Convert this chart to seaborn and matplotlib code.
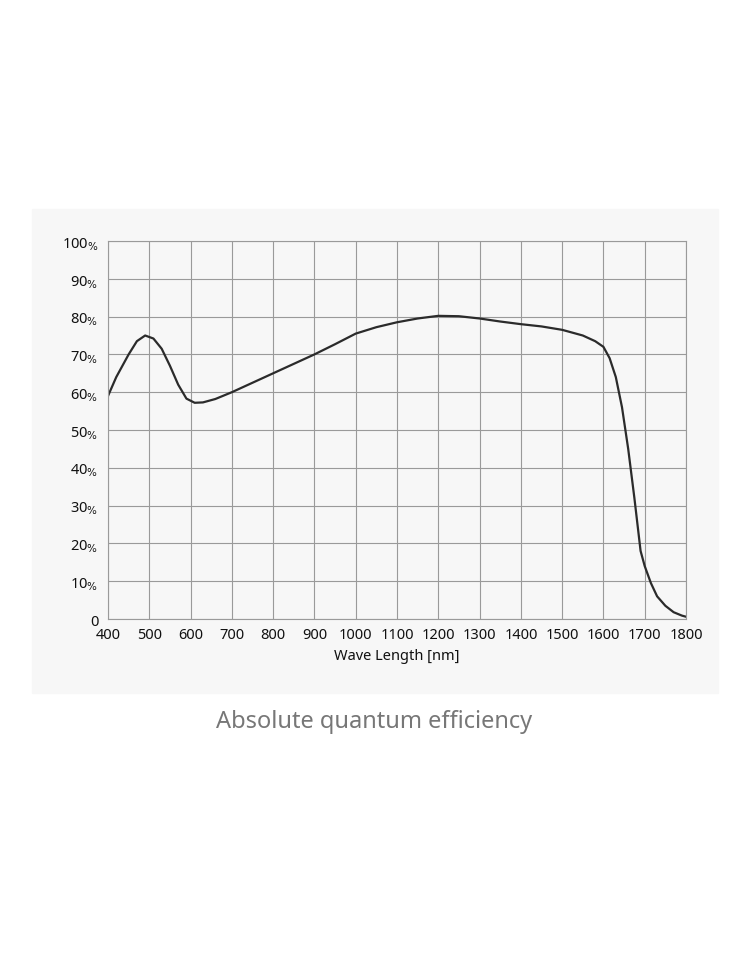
import numpy as np
import pandas as pd
import seaborn as sns
import matplotlib.pyplot as plt
from matplotlib.patches import Rectangle

# Curve
wavelength = [400, 420, 450, 470, 490, 510, 530, 550, 570, 590, 610, 630, 660, 700, 750, 800,
              850, 900, 950, 1000, 1050, 1100, 1150, 1200, 1250, 1300, 1350, 1400, 1450, 1500,
              1550, 1580, 1600, 1615, 1630, 1645, 1660, 1675, 1690, 1700, 1715, 1730, 1750,
              1770, 1790, 1800]
qe = [59, 64, 70, 73.5, 75, 74.2, 71.5, 67, 62, 58.3, 57.2, 57.3, 58.2, 60, 62.5, 65,
      67.5, 70, 72.7, 75.5, 77.2, 78.5, 79.5, 80.2, 80.1, 79.5, 78.7, 78, 77.4, 76.5,
      75, 73.5, 72, 69, 64, 56, 45, 32, 18, 14, 9.5, 6, 3.5, 1.8, 0.9, 0.6]
x_ticks = list(range(400, 1801, 100))
y_ticks = list(range(0, 101, 10))

sns.set_theme(style="white")
plt.rcParams['font.family'] = ['Noto Sans', 'DejaVu Sans']

fig = plt.figure(figsize=(7.5, 9.7), dpi=100)
fig.patches.append(Rectangle((32 / 750, 276 / 970), 686 / 750, 484 / 970,
                             transform=fig.transFigure, color="#f7f7f7", zorder=-10))
ax = fig.add_axes([108 / 750, 350 / 970, 578 / 750, 378 / 970])
ax.set_zorder(5)
ax.set_facecolor("#f7f7f7")

data = pd.DataFrame({"wl": wavelength, "qe": qe})
sns.lineplot(data=data, x="wl", y="qe", ax=ax, color="#2b2b2b", linewidth=1.6)

ax.set_xlim(400, 1800)
ax.set_ylim(0, 100)
ax.set_xticks(x_ticks)
ax.set_yticks(y_ticks)
ax.set_xticklabels([str(v) for v in x_ticks], fontsize=10.5, color="#111")
ax.set_yticklabels(["0"] + [f"{v}$_{{\\%}}$" for v in y_ticks[1:]], fontsize=10.5, color="#111")
ax.grid(True, color="#9a9a9a", linewidth=0.8)
for s in ax.spines.values():
    s.set_color("#9a9a9a")
    s.set_linewidth(0.8)
ax.tick_params(axis="x", length=0, pad=6)
ax.tick_params(axis="y", length=0, pad=7)
ax.set_xlabel("Wave Length [nm]", fontsize=10.5, fontweight="bold", color="#111")
ax.set_ylabel("")

fig.text(374 / 750, 1 - 722 / 970, "Absolute quantum efficiency", ha="center", va="center",
         fontsize=17, color="#777", fontweight="light")

fig.savefig("out.png", dpi=100)
